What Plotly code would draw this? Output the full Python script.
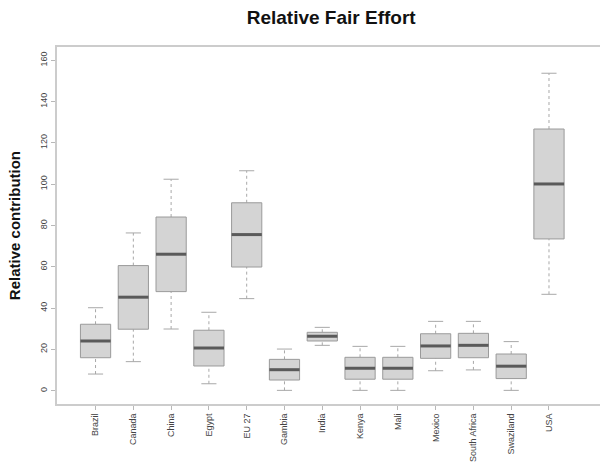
import plotly.graph_objects as go

# Five-number summaries of relative contribution per country/region
countries = ["Brazil", "Canada", "China", "Egypt", "EU 27", "Gambia", "India",
             "Kenya", "Mali", "Mexico", "South Africa", "Swaziland", "USA"]
whisker_low = [8.1, 14.1, 29.9, 3.4, 44.6, 0.2, 22.0, 0.2, 0.2, 9.7, 10.1, 0.2, 46.7]
q1 = [16.0, 29.8, 48.0, 12.0, 59.9, 5.2, 24.1, 5.6, 5.6, 15.7, 16.0, 5.9, 73.5]
median = [24.1, 45.3, 66.1, 20.7, 75.6, 10.2, 26.4, 10.9, 10.9, 21.7, 22.0, 11.9, 100.1]
q3 = [32.2, 60.6, 84.1, 29.3, 91.0, 15.2, 28.3, 16.2, 16.2, 27.6, 27.8, 17.8, 126.7]
whisker_high = [40.2, 76.4, 102.4, 38.0, 106.5, 20.2, 30.7, 21.5, 21.5, 33.6, 33.6, 23.8, 153.7]
y_ticks = [0, 20, 40, 60, 80, 100, 120, 140, 160]

FONT = "Liberation Sans, Arial, sans-serif"
BOX_HALF = 0.4
CAP_HALF = 0.2
positions = list(range(1, len(countries) + 1))

fig = go.Figure()

# Whiskers (dotted) from box edges to the extremes
wx, wy = [], []
for x, lo, a, b, hi in zip(positions, whisker_low, q1, q3, whisker_high):
    wx += [x, x, None, x, x, None]
    wy += [lo, a, None, b, hi, None]
fig.add_trace(go.Scatter(x=wx, y=wy, mode="lines", hoverinfo="skip",
                         line=dict(color="#a8a8a8", width=1, dash="dot"),
                         showlegend=False))

# Whisker caps
cx, cy = [], []
for x, lo, hi in zip(positions, whisker_low, whisker_high):
    cx += [x - CAP_HALF, x + CAP_HALF, None, x - CAP_HALF, x + CAP_HALF, None]
    cy += [lo, lo, None, hi, hi, None]
fig.add_trace(go.Scatter(x=cx, y=cy, mode="lines", hoverinfo="skip",
                         line=dict(color="#a8a8a8", width=1),
                         showlegend=False))

# Boxes (interquartile range)
for x, a, b in zip(positions, q1, q3):
    fig.add_trace(go.Scatter(
        x=[x - BOX_HALF, x + BOX_HALF, x + BOX_HALF, x - BOX_HALF, x - BOX_HALF],
        y=[a, a, b, b, a], mode="lines", fill="toself",
        fillcolor="#d4d4d4", line=dict(color="#9a9a9a", width=1),
        hoverinfo="skip", showlegend=False))

# Medians
mx, my = [], []
for x, m in zip(positions, median):
    mx += [x - BOX_HALF, x + BOX_HALF, None]
    my += [m, m, None]
fig.add_trace(go.Scatter(x=mx, y=my, mode="lines", hoverinfo="skip",
                         line=dict(color="#5a5a5a", width=3),
                         showlegend=False))

fig.update_layout(
    width=600, height=468,
    margin=dict(l=57, r=0, t=47, b=64),
    plot_bgcolor="white", paper_bgcolor="white",
    font=dict(family=FONT, color="#444444", size=9),
    title=dict(text="<b>Relative Fair Effort</b>", x=0.552, xanchor="center",
               y=0.962, yanchor="middle",
               font=dict(family=FONT, size=19, color="#111111")),
    xaxis=dict(range=[-0.02, 14.35], tickmode="array", tickvals=positions,
               ticktext=countries, tickangle=-90, ticks="outside", ticklen=4,
               tickcolor="#b8b8b8", showline=True, linecolor="#cccccc",
               linewidth=2, mirror=True, showgrid=False, zeroline=False,
               tickfont=dict(size=9, color="#444444")),
    yaxis=dict(range=[-6.4, 166.4], tickmode="array", tickvals=y_ticks,
               tickangle=-90, ticks="outside", ticklen=4, tickcolor="#b8b8b8",
               showline=True, linecolor="#cccccc", linewidth=2,
               showgrid=False, zeroline=False,
               tickfont=dict(size=9, color="#444444")),
    annotations=[dict(text="<b>Relative contribution</b>", xref="paper",
                      yref="paper", x=-0.078, y=0.5, textangle=-90,
                      showarrow=False, xanchor="center", yanchor="middle",
                      font=dict(family=FONT, size=15, color="#111111"))],
)

fig.write_html("out.html")
